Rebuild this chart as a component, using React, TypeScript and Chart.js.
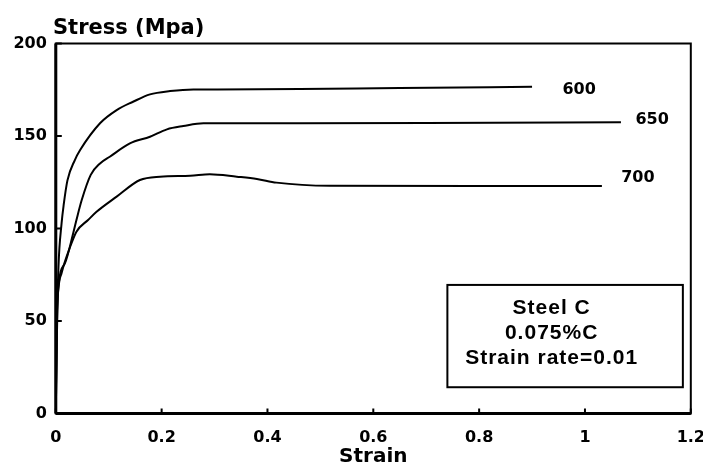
import React, { useEffect, useRef } from "react";
import { Chart, registerables } from "chart.js";

Chart.register(...registerables);

const strain600 = [0, 0.002, 0.005, 0.011, 0.015, 0.022, 0.036, 0.046, 0.084, 0.115, 0.146, 0.178, 0.216, 0.26, 0.304, 0.461, 0.65, 0.9];
const stress600 = [0, 45, 79, 103, 113, 126, 137, 142.4, 157, 164, 168.5, 172.5, 174.3, 175.2, 175.2, 175.4, 176, 176.6];

const strain650 = [0, 0.002, 0.004, 0.017, 0.033, 0.039, 0.049, 0.066, 0.083, 0.102, 0.14, 0.178, 0.21, 0.241, 0.279, 0.323, 0.461, 0.7, 1.068];
const stress650 = [0, 40, 65, 81, 97.6, 104.6, 115.4, 129, 135, 138.8, 146, 149.6, 153.6, 155.4, 156.9, 156.9, 156.9, 157, 157.4];

const strain700 = [0, 0.001, 0.002, 0.011, 0.027, 0.039, 0.061, 0.077, 0.115, 0.159, 0.197, 0.254, 0.291, 0.342, 0.38, 0.417, 0.518, 0.934, 1.032];
const stress700 = [0, 35, 54, 76, 90, 98.3, 104.6, 109, 117.2, 126.2, 128, 128.5, 129.3, 128, 126.8, 124.8, 123.1, 123, 123];

const xTicks = [0, 0.2, 0.4, 0.6, 0.8, 1, 1.2];
const yTicks = [0, 50, 100, 150, 200];

const curveLabels = ["600", "650", "700"];
const labelStrain = [0.989, 1.127, 1.1];
const labelStress = [174.9, 158.6, 127.5];

const boxLines = ["Steel C", "0.075%C", "Strain rate=0.01"];
const boxStrain = [0.74, 1.185];
const boxStress = [69.5, 14.2];
const boxTextStrain = 0.937;

const yAxisTitle = "Stress (Mpa)";
const xAxisTitle = "Strain";

const FONT = '"DejaVu Sans", sans-serif';

function toPoints(xs: number[], ys: number[]) {
  return xs.map((x, i) => ({ x, y: ys[i] }));
}

const overlayPlugin = {
  id: "overlay",
  afterDraw(chart: any) {
    const { ctx, chartArea: a, scales } = chart;
    const x = scales.x;
    const y = scales.y;
    ctx.save();
    ctx.strokeStyle = "#000";
    ctx.fillStyle = "#000";
    // frame
    ctx.lineWidth = 2;
    ctx.strokeRect(a.left, a.top, a.right - a.left, a.bottom - a.top);
    ctx.lineWidth = 3;
    ctx.beginPath();
    ctx.moveTo(a.left, a.top);
    ctx.lineTo(a.left, a.bottom);
    ctx.moveTo(a.left, a.bottom);
    ctx.lineTo(a.right, a.bottom);
    ctx.stroke();
    // inward ticks
    ctx.lineWidth = 2;
    ctx.beginPath();
    xTicks.forEach((v) => {
      const px = x.getPixelForValue(v);
      ctx.moveTo(px, a.bottom);
      ctx.lineTo(px, a.bottom - 5);
    });
    yTicks.forEach((v) => {
      const py = y.getPixelForValue(v);
      ctx.moveTo(a.left, py);
      ctx.lineTo(a.left + 6, py);
    });
    ctx.stroke();
    // curve labels
    ctx.font = `bold 16px ${FONT}`;
    ctx.textAlign = "center";
    ctx.textBaseline = "middle";
    curveLabels.forEach((t, i) => {
      ctx.fillText(t, x.getPixelForValue(labelStrain[i]), y.getPixelForValue(labelStress[i]));
    });
    // y axis title
    ctx.font = `bold 21px ${FONT}`;
    ctx.textAlign = "left";
    ctx.textBaseline = "alphabetic";
    ctx.fillText(yAxisTitle, 53, 34);
    // info box
    const bl = x.getPixelForValue(boxStrain[0]);
    const br = x.getPixelForValue(boxStrain[1]);
    const bt = y.getPixelForValue(boxStress[0]);
    const bb = y.getPixelForValue(boxStress[1]);
    ctx.lineWidth = 2;
    ctx.strokeRect(bl, bt, br - bl, bb - bt);
    ctx.font = `bold 21px "Liberation Sans", Arial, sans-serif`;
    try {
      (ctx as any).letterSpacing = "1px";
    } catch (e) {}
    ctx.textAlign = "center";
    ctx.textBaseline = "middle";
    const tx = x.getPixelForValue(boxTextStrain);
    boxLines.forEach((t, i) => {
      ctx.fillText(t, tx, bt + 23 + i * 25);
    });
    ctx.restore();
  },
};

export default function App() {
  const canvasRef = useRef<HTMLCanvasElement | null>(null);

  useEffect(() => {
    if (!canvasRef.current) return;
    const lineStyle = {
      borderColor: "#000",
      backgroundColor: "#000",
      borderWidth: 2,
      pointRadius: 0,
      fill: false,
      cubicInterpolationMode: "monotone" as const,
    };
    const chart = new Chart(canvasRef.current, {
      type: "line",
      data: {
        datasets: [
          { label: "600", data: toPoints(strain600, stress600), ...lineStyle },
          { label: "650", data: toPoints(strain650, stress650), ...lineStyle },
          { label: "700", data: toPoints(strain700, stress700), ...lineStyle },
        ],
      },
      options: {
        animation: false,
        responsive: false,
        layout: { padding: { left: 0, top: 43.5, right: 12.2, bottom: 0 } },
        plugins: { legend: { display: false }, tooltip: { enabled: false } },
        scales: {
          x: {
            type: "linear",
            min: 0,
            max: 1.2,
            grid: { display: false, drawTicks: false },
            border: { display: false },
            ticks: {
              stepSize: 0.2,
              padding: 15,
              color: "#000",
              font: { family: FONT, size: 16, weight: "bold" },
              maxRotation: 0,
              callback: (v: any) => String(Math.round(Number(v) * 10) / 10),
            },
            title: {
              display: true,
              text: xAxisTitle,
              color: "#000",
              font: { family: FONT, size: 20, weight: "bold" },
              padding: { top: 0, bottom: 5 },
            },
            afterFit: (scale: any) => {
              scale.height = 474 - 413.5;
              scale.paddingLeft = 0;
              scale.paddingRight = 0;
            },
          },
          y: {
            type: "linear",
            min: 0,
            max: 200,
            grid: { display: false, drawTicks: false },
            border: { display: false },
            ticks: {
              stepSize: 50,
              padding: 9,
              color: "#000",
              font: { family: FONT, size: 16, weight: "bold" },
            },
            afterFit: (scale: any) => {
              scale.width = 55.8;
              scale.paddingTop = 0;
              scale.paddingBottom = 0;
            },
          },
        },
      },
      plugins: [overlayPlugin],
    });
    return () => chart.destroy();
  }, []);

  return (
    <div style={{ position: "fixed", left: 0, top: 0, width: 703, height: 474, background: "#fff" }}>
      <canvas ref={canvasRef} width={703} height={474} style={{ display: "block" }} />
    </div>
  );
}
